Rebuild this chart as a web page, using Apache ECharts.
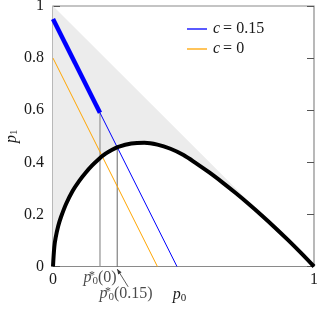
<!DOCTYPE html>
<html><head><meta charset="utf-8">
<script src="https://cdn.jsdelivr.net/npm/echarts@6/dist/echarts.min.js"></script>
<style>html,body{margin:0;padding:0;background:#fff}#c{width:317px;height:309px}</style>
</head><body><div id="c"></div>
<script>
// Black curve p1(p0)
const curveP0 = [0, 0.005, 0.01, 0.02, 0.03, 0.05, 0.075, 0.1, 0.125, 0.15, 0.175, 0.2, 0.225, 0.25, 0.3, 0.35, 0.4, 0.45, 0.5, 0.55, 0.6, 0.65, 0.7, 0.75, 0.8, 0.85, 0.9, 0.95, 1];
const curveP1 = [0, 0.075, 0.11, 0.155, 0.188, 0.24, 0.29, 0.328, 0.36, 0.388, 0.412, 0.432, 0.447, 0.459, 0.472, 0.475, 0.468, 0.452, 0.428, 0.395, 0.36, 0.322, 0.282, 0.24, 0.196, 0.15, 0.102, 0.052, 0];
// Straight lines
const blueX = [0, 0.475], blueY = [0.95, 0];          // c = 0.15
const orangeX = [0, 0.4], orangeY = [0.8, 0];         // c = 0
const blueThickX = [0, 0.18], blueThickY = [0.95, 0.59];
const diagX = [0, 1], diagY = [1, 0];
// Thresholds
const pStar0 = 0.18, pStar0Top = 0.59;
const pStar015 = 0.246, pStar015Top = 0.458;
const xTicks = [0, 1];
const yTicks = [0, 0.2, 0.4, 0.6, 0.8, 1];

const FONT = "'Liberation Serif', 'DejaVu Serif', serif";
const TXT = '#1a1a1a';
const rich = {
  i: {fontFamily: FONT, fontStyle: 'italic', fontSize: 16, color: TXT},
  n: {fontFamily: FONT, fontSize: 16, color: TXT},
  sub: {fontFamily: FONT, fontSize: 11, color: TXT, verticalAlign: 'bottom', padding: [6, 0, 0, 0]},
  sup: {fontFamily: FONT, fontSize: 12, color: TXT, verticalAlign: 'top', width: 1},
};
const pair = (xs, ys) => xs.map((x, k) => [x, ys[k]]);

const chart = echarts.init(document.getElementById('c'), null, {renderer: 'canvas'});
chart.setOption({
  animation: false,
  textStyle: {fontFamily: FONT},
  grid: {left: 53, top: 6, width: 261, height: 260.5, outerBoundsMode: 'none', containLabel: false,
         show: true, borderColor: '#8a8a8a', borderWidth: 1.2, backgroundColor: 'transparent'},
  legend: {
    left: 182, top: 16, orient: 'vertical', itemWidth: 20, itemHeight: 1.3, itemGap: 4, icon: 'rect',
    data: ['c015', 'c0'],
    formatter: n => n === 'c015' ? '{i|c} {n|= 0.15}' : '{i|c} {n|= 0}',
    textStyle: {fontFamily: FONT, rich: rich, padding: [0, 0, 0, 1]}
  },
  xAxis: {
    type: 'value', min: 0, max: 1, interval: 1,
    axisLine: {show: false}, axisTick: {show: false}, splitLine: {show: false},
    axisLabel: {fontFamily: FONT, fontSize: 16, color: TXT, margin: 5, formatter: v => xTicks.includes(v) ? String(v) : ''},
    name: '{i|p}{sub|0}', nameLocation: 'middle', nameGap: 20, nameMoveOverlap: false,
    nameTextStyle: {fontFamily: FONT, rich: rich, padding: [0, 0, 0, -8]}
  },
  yAxis: [{
    type: 'value', min: 0, max: 1, interval: 0.2,
    axisLine: {show: false}, splitLine: {show: false},
    axisTick: {show: true, inside: true, length: 7, lineStyle: {color: '#555', width: 1}},
    axisLabel: {fontFamily: FONT, fontSize: 16, color: TXT, margin: 9, formatter: v => String(+v.toFixed(1))},
    name: '{i|p}{sub|1}', nameLocation: 'middle', nameGap: 33, nameRotate: 90, nameMoveOverlap: false,
    nameTextStyle: {fontFamily: FONT, rich: rich}
  }, {
    type: 'value', min: 0, max: 1, interval: 0.2, position: 'right',
    axisLine: {show: false}, splitLine: {show: false}, axisLabel: {show: false},
    axisTick: {show: true, inside: true, length: 7, lineStyle: {color: '#555', width: 1}}
  }],
  series: [
    {
      type: 'custom', z: 1, silent: true, data: [[0, 0]],
      renderItem: (params, api) => {
        const pts = pair(diagX, diagY).map(p => api.coord(p));
        for (let k = curveP0.length - 1; k >= 0; k--) pts.push(api.coord([curveP0[k], curveP1[k]]));
        return {type: 'polygon', shape: {points: pts, smooth: 0}, style: {fill: '#ececec'}};
      }
    },
    {type: 'line', z: 2, symbol: 'none', data: pair([pStar0, pStar0], [0, pStar0Top]), lineStyle: {color: '#9a9a9a', width: 1.3}},
    {type: 'line', z: 2, symbol: 'none', data: pair([pStar015, pStar015], [0, pStar015Top]), lineStyle: {color: '#404040', width: 0.8}},
    {name: 'c0', type: 'line', z: 3, symbol: 'none', data: pair(orangeX, orangeY), color: '#ffa500', lineStyle: {color: '#ffa500', width: 1}},
    {name: 'c015', type: 'line', z: 3, symbol: 'none', data: pair(blueX, blueY), color: '#0000ff', lineStyle: {color: '#0000ff', width: 1}},
    {type: 'line', z: 4, symbol: 'none', data: pair(blueThickX, blueThickY), lineStyle: {color: '#0000ff', width: 4.5}},
    {type: 'line', z: 5, symbol: 'none', smooth: 0.35, data: pair(curveP0, curveP1), lineStyle: {color: '#000', width: 4}},
    {
      type: 'scatter', z: 6, symbolSize: 0, silent: true,
      data: [
        {value: [pStar0, 0], label: {show: true, position: 'bottom', distance: 3, formatter: '{i|p}{sup|*}{sub|0}{n|(0)}', rich: rich}},
        {value: [0.28, 0], label: {show: true, position: 'bottom', distance: 19, formatter: '{i|p}{sup|*}{sub|0}{n|(0.15)}', rich: rich}}
      ]
    },
    {
      type: 'custom', z: 6, silent: true, clip: false, data: [[0, 0]],
      renderItem: (params, api) => {
        const tip = api.coord([pStar015, -0.01]);
        const tail = api.coord([0.288, -0.078]);
        const dx = tail[0] - tip[0], dy = tail[1] - tip[1];
        const L = Math.hypot(dx, dy), ux = dx / L, uy = dy / L;
        const a = 5, w = 2;
        const b = [tip[0] + ux * a, tip[1] + uy * a];
        return {type: 'group', children: [
          {type: 'line', shape: {x1: tip[0], y1: tip[1], x2: tail[0], y2: tail[1]}, style: {stroke: '#333', lineWidth: 0.8}},
          {type: 'polygon', shape: {points: [tip, [b[0] - uy * w, b[1] + ux * w], [b[0] + uy * w, b[1] - ux * w]]}, style: {fill: '#333'}}
        ]};
      }
    }
  ]
});
</script></body></html>
